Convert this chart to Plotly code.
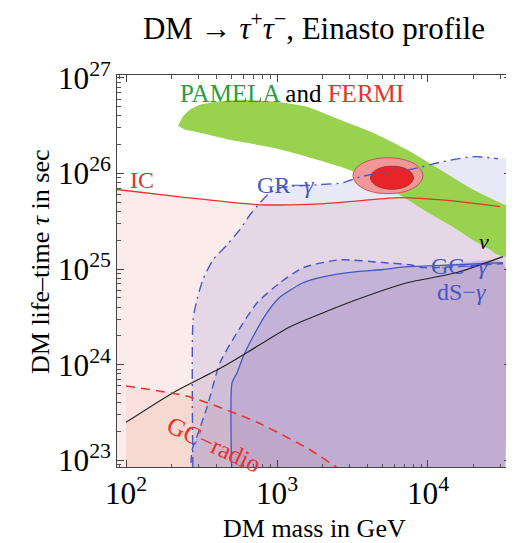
import plotly.graph_objects as go

FLOOR = 5e22  # lower closing edge for filled regions (below visible range)

# IC constraint (red solid)
ic_mass = [87, 228, 772, 1928, 3545, 6530, 14000, 30000]
ic_tau = [6.8e25, 5.7e25, 4.7e25, 4.8e25, 5.2e25, 5.6e25, 5.2e25, 4.5e25]

# neutrino constraint (black)
nu_mass = [100, 205, 439, 633, 1220, 3388, 7260, 15570, 31400]
nu_tau = [2.5e23, 5.1e23, 9.5e23, 1.34e24, 2.5e24, 4.8e24, 7.2e24, 9.2e24, 1.35e25]

# GC radio (red dashed)
radio_mass = [100, 265, 738, 1655, 2246, 2613]
radio_tau = [6.0e23, 4.6e23, 2.5e23, 1.29e23, 9.4e22, 8.0e22]

# GR-gamma (blue dash-dot)
gr_mass = [278, 278, 295, 323, 377, 467, 569, 662, 772, 899, 1048, 1928, 2735,
           3388, 4810, 7600, 12560, 19860, 29100, 36500]
gr_tau = [5e22, 2.96e24, 4.8e24, 7.75e24, 1.25e25, 1.8e25, 2.6e25, 3.7e25, 4.95e25,
          6.3e25, 7.1e25, 7.65e25, 8.0e25, 9.0e25, 1.02e26, 1.10e26, 1.33e26,
          1.5e26, 1.43e26, 1.39e26]

# GC-gamma (blue dashed)
gc_mass = [265, 274, 295, 344, 419, 543, 738, 1048, 1487, 2613, 5036, 7600, 9270, 31400]
gc_tau = [5e22, 1.29e23, 1.77e23, 3.6e23, 1.05e24, 2.16e24, 4.45e24, 7.2e24,
          1.035e25, 1.25e25, 1.17e25, 1.11e25, 1.035e25, 1.14e25]

# dS-gamma (blue solid)
ds_mass = [504, 504, 543, 596, 693, 859, 1048, 1487, 2018, 3388, 5036, 7260, 15570, 31400]
ds_tau = [5e22, 6.5e23, 8.2e23, 1.21e24, 1.96e24, 3.5e24, 5.1e24, 7.2e24, 8.3e24,
          9.4e24, 9.9e24, 1.06e25, 1.11e25, 1.17e25]

# PAMELA region (green band)
pam_mass = [221, 238, 265, 309, 359, 569, 1000, 1580, 2613, 4325, 7260, 12000, 19860,
            30000, 36550, 36550, 33350, 28000, 25760, 20000, 15570, 9270, 6830, 4325,
            2613, 1580, 942, 489, 309, 246]
pam_tau = [3.16e26, 3.93e26, 4.64e26, 5.24e26, 5.5e26, 5.9e26, 5.6e26, 5.0e26, 3.65e26,
           2.67e26, 1.77e26, 1.10e26, 6.8e25, 4.95e25, 4.2e25, 1.25e25, 1.32e25,
           1.45e25, 1.6e25, 2.0e25, 2.6e25, 4.2e25, 5.7e25, 8.6e25, 1.18e26, 1.5e26,
           1.86e26, 2.25e26, 2.67e26, 2.87e26]

# FERMI regions (outer / inner)
fo_mass = [9270, 8630, 7100, 5430, 4160, 3420, 3185, 3420, 4160, 5430, 7100, 8630]
fo_tau = [9.5e25, 1.18e26, 1.38e26, 1.46e26, 1.38e26, 1.18e26, 9.5e25, 7.65e25,
          6.5e25, 6.15e25, 6.5e25, 7.65e25]
fi_mass = [8020, 7670, 6810, 5780, 4900, 4350, 4160, 4350, 4900, 5780, 6810, 7670]
fi_tau = [9.04e25, 1.04e26, 1.15e26, 1.19e26, 1.15e26, 1.04e26, 9.04e25, 7.87e25,
          7.1e25, 6.85e25, 7.1e25, 7.87e25]

SERIF = "Liberation Serif"
BLUE = "#4557c4"
RED = "#e8322c"

fig = go.Figure()


def region(xs, ys, close_x, color):
    px = list(xs) + close_x
    py = list(ys) + [FLOOR] * len(close_x)
    fig.add_trace(go.Scatter(x=px, y=py, mode="lines", fill="toself", fillcolor=color,
                             line=dict(width=0, shape="spline", smoothing=0.6),
                             hoverinfo="skip", showlegend=False))


def curve(xs, ys, color, dash="solid", width=1.3):
    fig.add_trace(go.Scatter(x=xs, y=ys, mode="lines",
                             line=dict(color=color, width=width, dash=dash,
                                       shape="spline", smoothing=0.6),
                             hoverinfo="skip", showlegend=False))


# filled regions
region(ic_mass, ic_tau, [ic_mass[-1], ic_mass[0]], "rgba(235,120,120,0.15)")
region(nu_mass, nu_tau, [nu_mass[-1], nu_mass[0]], "rgba(220,150,110,0.10)")
region(radio_mass, radio_tau, [radio_mass[-1], radio_mass[0]], "rgba(240,140,100,0.10)")
region(gr_mass, gr_tau, [gr_mass[-1]], "rgba(100,100,200,0.15)")
region(gc_mass, gc_tau, [gc_mass[-1]], "rgba(110,90,190,0.15)")
region(ds_mass, ds_tau, [ds_mass[-1]], "rgba(110,90,190,0.15)")

fig.add_trace(go.Scatter(x=pam_mass, y=pam_tau, mode="lines", fill="toself",
                         fillcolor="#98d24e", line=dict(width=0, shape="spline", smoothing=0.6),
                         hoverinfo="skip", showlegend=False))
fig.add_trace(go.Scatter(x=fo_mass + fo_mass[:1], y=fo_tau + fo_tau[:1], mode="lines",
                         fill="toself", fillcolor="#f09898",
                         line=dict(width=1, color="#b85a50", shape="spline", smoothing=1.0),
                         hoverinfo="skip", showlegend=False))
fig.add_trace(go.Scatter(x=fi_mass + fi_mass[:1], y=fi_tau + fi_tau[:1], mode="lines",
                         fill="toself", fillcolor="#e8242a",
                         line=dict(width=1, color="#b03030", shape="spline", smoothing=1.0),
                         hoverinfo="skip", showlegend=False))

# boundary lines
curve(ic_mass, ic_tau, RED, width=1.3)
curve(gr_mass[:-1], gr_tau[:-1], BLUE, dash="10px,5px,2px,5px", width=1.4)
curve(gc_mass, gc_tau, BLUE, dash="8px,5px", width=1.4)
curve(ds_mass, ds_tau, BLUE, width=1.3)
curve(nu_mass, nu_tau, "#222222", width=1.1)
curve(radio_mass, radio_tau, RED, dash="9px,6px", width=1.5)

axis_common = dict(
    type="log", dtick=1, exponentformat="power", showgrid=False, zeroline=False,
    showline=True, linecolor="#444444", linewidth=1, mirror="ticks",
    ticks="inside", ticklen=7, tickcolor="#444444", tickwidth=1,
    tickfont=dict(family=SERIF, size=25, color="black"),
    minor=dict(ticks="inside", ticklen=3.5, tickcolor="#555555", showgrid=False),
)

# The page body adds an 8px offset; the figure is sized so the plot area
# lands at x 117..511, y 75..467 in the 514x543 window.
fig.update_layout(
    width=506, height=535,
    margin=dict(l=109, r=3, t=67, b=76),
    plot_bgcolor="white", paper_bgcolor="white",
    showlegend=False,
    title=dict(text="DM → <i>τ</i><sup>+</sup><i>τ</i><sup>−</sup>, Einasto profile",
               font=dict(family=SERIF, size=31, color="black"),
               x=0.5, xref="paper", xanchor="center", y=1 - 20 / 535, yref="container",
               yanchor="middle"),
    xaxis=dict(range=[1.94, 4.55], **axis_common),
    yaxis=dict(range=[22.93, 27.03], **axis_common),
)

ann = [
    dict(text="<span style='color:#2e9a48'>PAMELA</span> and <span style='color:#e8322c'>FERMI</span>",
         x=3.099, y=26.835, size=25, color="black", angle=0),
    dict(text="IC", x=2.106, y=25.935, size=24, color=RED, angle=0),
    dict(text="GR−<i>γ</i>", x=3.053, y=25.883, size=24, color=BLUE, angle=0),
    dict(text="GC−<i>γ</i>", x=4.212, y=25.03, size=24, color=BLUE, angle=0),
    dict(text="dS−<i>γ</i>", x=4.225, y=24.76, size=24, color=BLUE, angle=0),
    dict(text="<i>ν</i>", x=4.37, y=25.29, size=22, color="black", angle=0),
    dict(text="GC−radio", x=2.583, y=23.17, size=25, color=RED, angle=25),
]
for a in ann:
    fig.add_annotation(text=a["text"], x=a["x"], y=a["y"], xref="x", yref="y",
                       showarrow=False, textangle=a["angle"],
                       font=dict(family=SERIF, size=a["size"], color=a["color"]),
                       xanchor="center", yanchor="middle")

fig.add_annotation(text="DM mass in GeV", x=0.5, y=(467 - 528) / 392, xref="paper",
                   yref="paper", showarrow=False, xanchor="center", yanchor="middle",
                   font=dict(family=SERIF, size=26, color="black"))
fig.add_annotation(text="DM life–time <i>τ</i> in sec", x=(40 - 117) / 394,
                   y=(467 - 262) / 392, xref="paper", yref="paper", showarrow=False,
                   textangle=-90, xanchor="center", yanchor="middle",
                   font=dict(family=SERIF, size=26, color="black"))

fig.write_html("out.html")
